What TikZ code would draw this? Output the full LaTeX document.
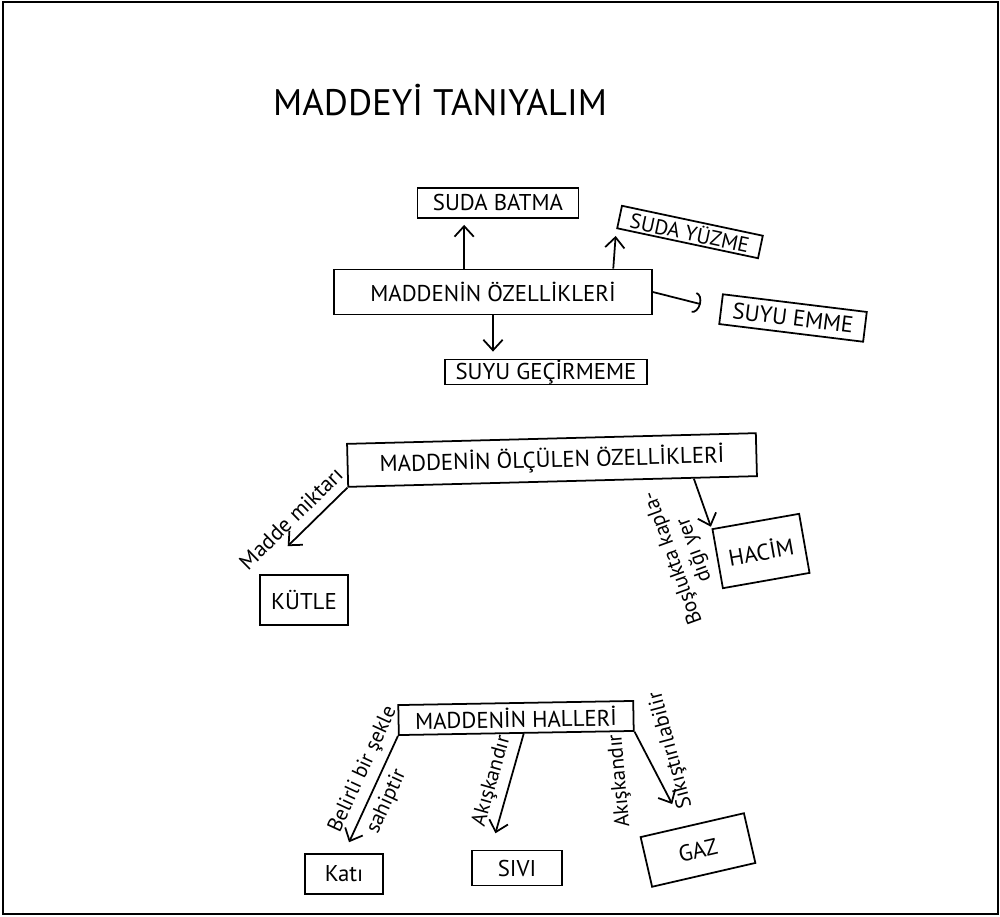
\documentclass[tikz,border=0pt]{standalone}
\usepackage{fontspec}
\setmainfont{PT Sans}
\usetikzlibrary{arrows.meta}

\begin{document}
\begin{tikzpicture}[x=0.02cm,y=-0.02cm,line width=1pt,
    box/.style={draw,inner sep=0pt,font=\fontsize{13}{15}\selectfont},
    note/.style={font=\fontsize{12}{13}\selectfont,inner sep=1pt},
    link/.style={-{Straight Barb[length=6pt,width=11pt]},shorten >=2pt}]
  \useasboundingbox (0,0) rectangle (1000,916);
  \draw[line width=1.4pt] (3,2) rectangle (998,914);
  \node[font=\fontsize{21}{24}\selectfont] (title) at (440,100) {MADDEYİ TANIYALIM};

  \node[box,minimum width=6.36cm,minimum height=.9cm] (ozel) at (493,292) {MADDENİN ÖZELLİKLERİ};
  \node[box,minimum width=3.22cm,minimum height=.6cm] (batma) at (498,203) {SUDA BATMA};
  \node[box,minimum width=2.88cm,minimum height=.46cm,rotate=-12,
    font=\fontsize{12}{14}\selectfont] (yuzme) at (690,232) {SUDA YÜZME};
  \node[box,minimum width=2.9cm,minimum height=.6cm,rotate=-7] (emme) at (793,318) {SUYU EMME};
  \node[box,minimum width=4.04cm,minimum height=.5cm] (gecir) at (546,372) {SUYU GEÇİRMEME};
  \draw[link,shorten >=3.4pt] (ozel.141) -- (ozel.141 |- batma.south);
  \draw[link,shorten >=4pt] (ozel.11.5) -- (yuzme.south west);
  \draw[-{Arc Barb[length=4pt,width=12pt]},shorten >=.4cm] (ozel.east) -- (emme.west);
  \draw[link,shorten >=4pt] (ozel.south) -- (ozel.south |- gecir.north);

  \node[box,minimum width=8.18cm,minimum height=.86cm,rotate=1.5] (olcul) at (552,460)
    {MADDENİN ÖLÇÜLEN ÖZELLİKLERİ};
  \node[box,minimum width=1.76cm,minimum height=1cm] (kutle) at (304,600) {KÜTLE};
  \node[box,minimum width=1.76cm,minimum height=1.2cm,rotate=10] (hacim) at (761,551) {HACİM};
  \draw[link,shorten >=.8cm] (olcul.south west) --
    node[note,sloped,above=4pt,pos=.5,font=\fontsize{12.5}{14}\selectfont] (miktar) {Madde miktarı}
    (kutle.north west);
  \draw[link,shorten >=1pt] (olcul.-9) -- (hacim.north west);
  \node[note,rotate=110,align=center] (bosluk) at (684,554) {Boşlukta kapla-\\dığı yer};

  \node[box,minimum width=4.7cm,minimum height=.6cm,rotate=1] (hal) at (516,718) {MADDENİN HALLERİ};
  \node[box,minimum width=1.56cm,minimum height=.8cm] (kati) at (344,874) {Katı};
  \node[box,minimum width=1.8cm,minimum height=.7cm] (sivi) at (517,868) {SIVI};
  \node[box,minimum width=2.12cm,minimum height=1.02cm,rotate=13] (gaz) at (698,850) {GAZ};
  \draw[link,shorten >=.24cm] (hal.south west) --
    node[note,sloped,above=3pt,pos=.35] (belirli) {Belirli bir şekle}
    node[note,sloped,below=3pt,pos=.5] (sahip) {sahiptir} (kati.north);
  \draw[link,shorten >=.34cm] (hal.-65) --
    node[note,sloped,above=3pt,pos=.45] (akis1) {Akışkandır} (sivi.145);
  \draw[link,shorten >=.5cm] (hal.south east) -- (gaz.108);
  \node[note,rotate=95] (akis2) at (620,781) {Akışkandır};
  \node[note,rotate=105] (sikis) at (671,750) {Sıkıştırılabilir};
\end{tikzpicture}
\end{document}
